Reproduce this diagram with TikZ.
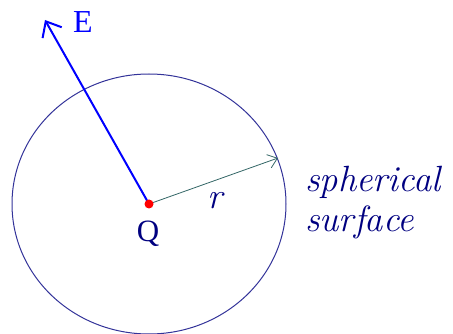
\documentclass[tikz,border=0pt]{standalone}
\usepackage{fontspec}
\setmainfont{Liberation Serif}
\newfontfamily\lmfont{Latin Modern Roman}
\usetikzlibrary{arrows.meta,positioning}
\definecolor{Navy}{RGB}{0,0,128}
\definecolor{Ring}{RGB}{51,51,153}
\definecolor{Field}{RGB}{0,0,255}
\definecolor{Radius}{RGB}{51,102,102}

\begin{document}
\begin{tikzpicture}[x=1pt,y=-1pt,
    lbl/.style={inner sep=0pt,text=Navy},
    big/.style={font=\lmfont\fontsize{36.5}{40}\selectfont\itshape}]
  \useasboundingbox (0,0) rectangle (453,334);
  % charge, field tip and radius tip
  \coordinate (Q) at (149,204);
  \coordinate (Etip) at (45,20);
  \coordinate (rtip) at (278,158);
  \draw[Ring,line width=1pt] (Q) ellipse [x radius=137pt,y radius=130pt];
  \draw[Field,line width=2pt,-{Straight Barb[length=13pt,width=22pt]}] (Q) -- (Etip);
  \draw[Radius,line width=0.8pt,-{Straight Barb[length=9pt,width=14pt]}] (Q) -- (rtip);
  \fill[red] (Q) circle (4.5pt);
  % labels
  \node[lbl,anchor=base,font=\fontsize{31}{36}\selectfont] (qlab) at (148,242) {Q};
  \node[lbl,anchor=base,text=Field,font=\fontsize{32}{36}\selectfont] (elab) at (83,33) {E};
  \node[lbl,big,anchor=base] (rlab) at (215,209) {r};
  \node[lbl,big,anchor=base west] (sph) at (305,192) {spherical};
  \node[lbl,big,anchor=base west] (surf) at ([yshift=-40pt]sph.base west) {surface};
\end{tikzpicture}
\end{document}
